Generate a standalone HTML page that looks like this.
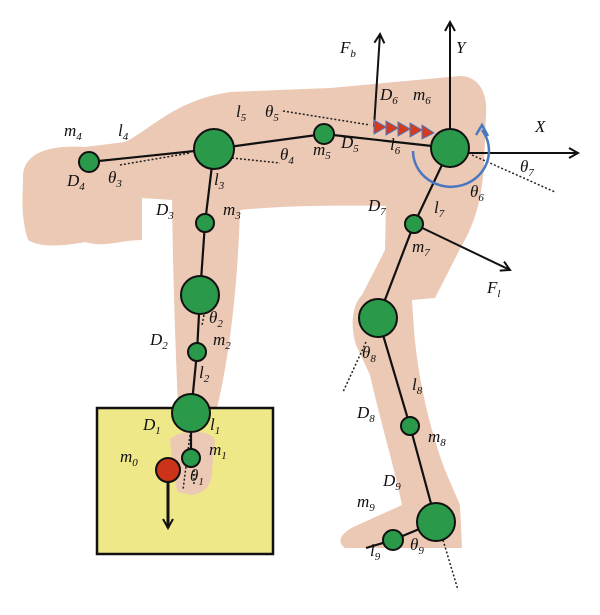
<!DOCTYPE html>
<html><head><meta charset="utf-8"><style>
html,body{margin:0;padding:0;background:#fff}
svg{display:block}
text{font-family:"Liberation Serif",serif;font-style:italic;font-size:17px;fill:#111}
.s{font-size:11px}
</style></head><body>
<svg width="600" height="615" viewBox="0 0 600 615" xmlns="http://www.w3.org/2000/svg">
<defs>
<marker id="ar" markerWidth="12" markerHeight="12" refX="10" refY="6" orient="auto" markerUnits="userSpaceOnUse">
<path d="M1,1 L10,6 L1,11" fill="none" stroke="#111" stroke-width="2"/></marker>
</defs>
<!-- silhouette -->
<g fill="#ebc9b5">
<path d="M23,175 C25,150 55,145 85,147 L125,142 C150,130 175,100 230,92 L330,88 L460,76 C478,76 488,92 486,115 L484,165 C482,195 476,222 462,245 L435,298 L412,300 L414,330 C418,380 430,430 445,470 L460,505 L462,548 L345,548 C336,542 340,532 360,524 L402,505 C395,470 380,420 370,375 L356,345 C350,325 352,305 362,295 L385,250 L386,206 C330,205 280,206 240,210 C238,280 230,360 214,420 L212,460 C214,480 208,495 190,495 L178,492 C172,470 172,440 178,410 L175,330 L173,260 L172,200 L142,198 L142,240 C120,240 105,248 85,242 C65,246 40,248 28,240 C20,215 23,195 23,175 Z"/>
</g>
<!-- box -->
<rect x="97" y="408" width="176" height="146" fill="#eee888" stroke="#111" stroke-width="2.5"/>
<path d="M170,440 C175,430 210,428 215,440 L212,470 C212,482 208,492 192,495 L178,492 C172,475 172,455 170,440 Z" fill="#ebc9b5"/>
<!-- dotted lines -->
<g stroke="#222" stroke-width="1.5" stroke-dasharray="2,2" fill="none">
<path d="M120,165 L190,153"/><path d="M232,158 L280,163"/><path d="M283,111 L370,125"/>
<path d="M472,155 L555,192"/><path d="M366,342 L343,392"/><path d="M443,540 L458,590"/>
<path d="M204,315 L202,325"/><path d="M190,435 L183,490"/><path d="M194,470 L194,485"/>
</g>
<!-- links -->
<g stroke="#111" stroke-width="2.2" fill="none">
<path d="M89,162 L214,149 L324,134 L450,148"/>
<path d="M214,149 L205,223 L200,295 L197,352 L191,413 L191,458"/>
<path d="M450,148 L414,224 L378,318 L410,426 L436,522 L393,540 L366,548"/>
</g>
<!-- axes -->
<g stroke="#111" stroke-width="2" fill="none" marker-end="url(#ar)">
<path d="M374,127 L380,34"/><path d="M450,148 L450,22"/><path d="M468,153 L578,153"/><path d="M414,224 L510,270"/>
<path d="M168,482 L168,528" stroke-width="3"/>
</g>
<!-- red arrows -->
<g fill="#d63a1e" stroke="#4a78c0" stroke-width="1">
<path d="M374,120 L386,127 L374,134Z"/><path d="M386,121 L398,128 L386,135Z"/><path d="M398,122 L410,129 L398,136Z"/><path d="M410,123 L422,130 L410,137Z"/><path d="M422,125 L434,133 L422,139Z"/>
</g>
<!-- blue arc -->
<path d="M413,151 A38,36 0 1 0 482,130" fill="none" stroke="#4a78c0" stroke-width="2.5"/>
<path d="M476,135 L482,125 L488,136" fill="none" stroke="#4a78c0" stroke-width="2.5"/>
<!-- nodes -->
<g fill="#2a9a4a" stroke="#111" stroke-width="2">
<circle cx="89" cy="162" r="10"/><circle cx="214" cy="149" r="20"/><circle cx="324" cy="134" r="10"/>
<circle cx="450" cy="148" r="19"/><circle cx="205" cy="223" r="9"/><circle cx="200" cy="295" r="19"/>
<circle cx="197" cy="352" r="9"/><circle cx="191" cy="413" r="19"/><circle cx="191" cy="458" r="9"/>
<circle cx="414" cy="224" r="9"/><circle cx="378" cy="318" r="19"/><circle cx="410" cy="426" r="9"/>
<circle cx="436" cy="522" r="19"/><circle cx="393" cy="540" r="10"/>
</g>
<circle cx="168" cy="470" r="12" fill="#cc3318" stroke="#111" stroke-width="2"/>
<!-- labels -->
<text x="340" y="53">F<tspan class="s" dy="4">b</tspan></text>
<text x="456" y="53">Y</text>
<text x="535" y="132">X</text>
<text x="487" y="293">F<tspan class="s" dy="4">l</tspan></text>
<text x="64" y="136">m<tspan class="s" dy="4">4</tspan></text>
<text x="118" y="136">l<tspan class="s" dy="4">4</tspan></text>
<text x="67" y="186">D<tspan class="s" dy="4">4</tspan></text>
<text x="108" y="183">θ<tspan class="s" dy="4">3</tspan></text>
<text x="236" y="117">l<tspan class="s" dy="4">5</tspan></text>
<text x="265" y="117">θ<tspan class="s" dy="4">5</tspan></text>
<text x="280" y="160">θ<tspan class="s" dy="4">4</tspan></text>
<text x="313" y="155">m<tspan class="s" dy="4">5</tspan></text>
<text x="341" y="148">D<tspan class="s" dy="4">5</tspan></text>
<text x="380" y="100">D<tspan class="s" dy="4">6</tspan></text>
<text x="413" y="100">m<tspan class="s" dy="4">6</tspan></text>
<text x="390" y="150">l<tspan class="s" dy="4">6</tspan></text>
<text x="520" y="172">θ<tspan class="s" dy="4">7</tspan></text>
<text x="470" y="197">θ<tspan class="s" dy="4">6</tspan></text>
<text x="214" y="185">l<tspan class="s" dy="4">3</tspan></text>
<text x="156" y="215">D<tspan class="s" dy="4">3</tspan></text>
<text x="223" y="215">m<tspan class="s" dy="4">3</tspan></text>
<text x="209" y="323">θ<tspan class="s" dy="4">2</tspan></text>
<text x="150" y="345">D<tspan class="s" dy="4">2</tspan></text>
<text x="213" y="345">m<tspan class="s" dy="4">2</tspan></text>
<text x="199" y="378">l<tspan class="s" dy="4">2</tspan></text>
<text x="143" y="430">D<tspan class="s" dy="4">1</tspan></text>
<text x="210" y="430">l<tspan class="s" dy="4">1</tspan></text>
<text x="120" y="462">m<tspan class="s" dy="4">0</tspan></text>
<text x="209" y="455">m<tspan class="s" dy="4">1</tspan></text>
<text x="190" y="481">θ<tspan class="s" dy="4">1</tspan></text>
<text x="368" y="211">D<tspan class="s" dy="4">7</tspan></text>
<text x="434" y="213">l<tspan class="s" dy="4">7</tspan></text>
<text x="412" y="252">m<tspan class="s" dy="4">7</tspan></text>
<text x="362" y="358">θ<tspan class="s" dy="4">8</tspan></text>
<text x="412" y="390">l<tspan class="s" dy="4">8</tspan></text>
<text x="357" y="418">D<tspan class="s" dy="4">8</tspan></text>
<text x="428" y="442">m<tspan class="s" dy="4">8</tspan></text>
<text x="383" y="486">D<tspan class="s" dy="4">9</tspan></text>
<text x="357" y="507">m<tspan class="s" dy="4">9</tspan></text>
<text x="410" y="550">θ<tspan class="s" dy="4">9</tspan></text>
<text x="370" y="556">l<tspan class="s" dy="4">9</tspan></text>
</svg>
</body></html>
